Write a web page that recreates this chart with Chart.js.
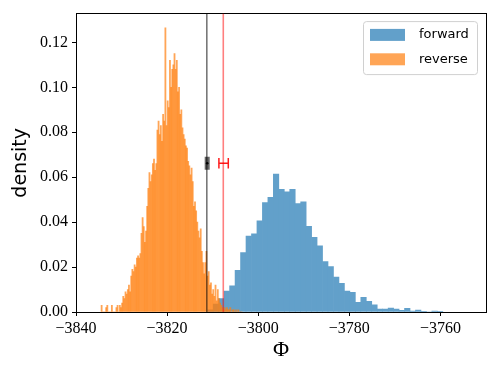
<!DOCTYPE html>
<html>
<head>
<meta charset="utf-8">
<script src="https://cdn.jsdelivr.net/npm/chart.js@4/dist/chart.umd.min.js"></script>
<style>
	html, body { margin: 0; padding: 0; background: #fff; }
	#wrap { width: 498px; height: 374px; }
</style>
</head>
<body>
<div id="wrap"><canvas id="chartContainer" width="498" height="374"></canvas></div>
<script>
// reverse work histogram: narrow bins
var reverseStart = -3834.5;
var reverseWidth = 0.25;
var reverseDensity = [
	0.003, 0, 0, 0,
	0.002, 0.003, 0, 0,
	0, 0.003, 0, 0,
	0, 0.002, 0.003, 0,
	0.003, 0.002, 0.004, 0.007,
	0.006, 0.009, 0.008, 0.010,
	0.012, 0.009, 0.016, 0.019,
	0.018, 0.021, 0.020, 0.024,
	0.025, 0.024, 0.026, 0.035,
	0.042, 0.038, 0.031, 0.036,
	0.047, 0.055, 0.062, 0.058,
	0.061, 0.066, 0.068, 0.063,
	0.066, 0.081, 0.085, 0.079,
	0.083, 0.076, 0.088, 0.085,
	0.1265, 0.083, 0.094, 0.091,
	0.112, 0.100, 0.108, 0.110,
	0.115, 0.108, 0.112, 0.098,
	0.100, 0.088, 0.090, 0.082,
	0.079, 0.077, 0.074, 0.073,
	0.067, 0.065, 0.061, 0.064,
	0.058, 0.047, 0.049, 0.045,
	0.040, 0.036, 0.033, 0.037,
	0.027, 0.022, 0.017, 0.022,
	0.027, 0.016, 0.018, 0.012,
	0.013, 0.008, 0.010, 0.007,
	0.012, 0.005, 0.010, 0.006,
	0.004, 0.003, 0.002, 0.001,
	0.002, 0.001, 0.002, 0.001,
	0.001, 0.002, 0, 0.001,
	0.001, 0, 0.001, 0,
	0.001, 0, 0, 0
];

// forward work histogram: wide bins
var forwardStart = -3811.08;
var forwardWidth = 1.2;
var forwardDensity = [
	0.001, 0.0035, 0.0060, 0.0093, 0.0117, 0.0186, 0.0264, 0.0338, 0.0348, 0.0406,
	0.0487, 0.0510, 0.0614, 0.0546, 0.0535, 0.0546, 0.0482, 0.0490, 0.0381, 0.0332,
	0.0295, 0.0224, 0.0202, 0.0155, 0.0128, 0.0093, 0.0088, 0.0043, 0.0065, 0.0047,
	0.0032, 0.0013, 0.0013, 0.0018, 0.0013, 0.0007, 0.0016, 0.0004, 0.0009, 0.0003,
	0, 0.0004, 0.0003
];

var seriesLabels = ["forward", "reverse"];
var xRange = [-3840, -3750];
var xStep = 20;
var yRange = [0, 0.1328];
var yStep = 0.02;

// estimates: vertical lines and error bars
var blackLineX = -3811.27;
var redLineX = -3807.67;
var estY = 0.0662;
var blackEst = [-3811.2, 0.55];
var redEst = [-3807.6, 1.03];
var capHalf = 0.00235;

var blue = "rgb(98,160,202)";
var orange = "rgba(255,127,14,0.7)";

function bins(start, width, vals) {
	return vals.map((v, i) => ({ x: start + width * (i + 0.5), y: v }));
}
function seg(x1, y1, x2, y2) {
	return [{ x: x1, y: y1 }, { x: x2, y: y2 }];
}
function fmt(v) {
	return v < 0 ? "\u2212" + Math.abs(v) : "" + v;
}

var lineBase = { type: "line", xAxisID: "x", yAxisID: "y", pointRadius: 0, fill: false, tension: 0, order: 0 };

var legendBox = {
	id: "legendBox",
	afterDraw(chart) {
		var ctx = chart.ctx;
		var a = chart.chartArea;
		var fx = a.right - 122.5, fy = a.top + 8, fw = 114, fh = 53;
		ctx.save();
		ctx.beginPath();
		ctx.roundRect(fx, fy, fw, fh, 3);
		ctx.fillStyle = "rgba(255,255,255,0.8)";
		ctx.fill();
		ctx.strokeStyle = "#d0d0d0";
		ctx.lineWidth = 1;
		ctx.stroke();
		var cols = [blue, orange];
		ctx.font = "13px 'DejaVu Sans'";
		ctx.textBaseline = "middle";
		for (var i = 0; i < 2; i++) {
			var py = fy + 7.3 + i * 24.4;
			ctx.fillStyle = cols[i];
			ctx.fillRect(fx + 6.5, py, 35, 12);
			ctx.fillStyle = "#000";
			ctx.fillText(seriesLabels[i], fx + 55.5, py + 6);
		}
		ctx.restore();
	}
};

var tickGrid = { display: true, offset: false, drawOnChartArea: false, drawTicks: true, tickLength: 4, color: "#000", lineWidth: 1 };
var noGrid = { display: false, offset: false, drawTicks: false, tickLength: 0 };
var border = { display: true, color: "#000", width: 1 };
var tickFont = { family: "'Liberation Serif'", size: 16 };

new Chart(document.getElementById("chartContainer"), {
	type: "bar",
	data: {
		datasets: [
			Object.assign({}, lineBase, { data: seg(blackLineX, yRange[0], blackLineX, yRange[1]), borderColor: "rgba(0,0,0,0.85)", borderWidth: 1 }),
			Object.assign({}, lineBase, { data: seg(redLineX, yRange[0], redLineX, yRange[1]), borderColor: "rgba(255,0,0,0.5)", borderWidth: 1.6 }),
			Object.assign({}, lineBase, { data: seg(blackEst[0] - blackEst[1], estY, blackEst[0] + blackEst[1], estY), borderColor: "rgba(0,0,0,0.6)", borderWidth: 13 }),
			Object.assign({}, lineBase, { data: [{ x: blackEst[0], y: estY }], showLine: false, pointRadius: 1.3, pointBackgroundColor: "#000", pointBorderWidth: 0 }),
			Object.assign({}, lineBase, { data: seg(redEst[0] - redEst[1], estY, redEst[0] + redEst[1], estY), borderColor: "#ff1a1a", borderWidth: 1.5 }),
			Object.assign({}, lineBase, { data: seg(redEst[0] - redEst[1], estY - capHalf, redEst[0] - redEst[1], estY + capHalf), borderColor: "#ff1a1a", borderWidth: 1.5 }),
			Object.assign({}, lineBase, { data: seg(redEst[0] + redEst[1], estY - capHalf, redEst[0] + redEst[1], estY + capHalf), borderColor: "#ff1a1a", borderWidth: 1.5 }),
			{
				label: seriesLabels[1],
				data: bins(reverseStart, reverseWidth, reverseDensity),
				xAxisID: "x", yAxisID: "y",
				backgroundColor: orange, borderWidth: 0,
				barPercentage: 1, categoryPercentage: 1, grouped: false, order: 1
			},
			{
				label: seriesLabels[0],
				data: bins(forwardStart, forwardWidth, forwardDensity),
				xAxisID: "xTop", yAxisID: "y",
				backgroundColor: blue, borderWidth: 0,
				barPercentage: 1, categoryPercentage: 1, grouped: false, order: 2
			}
		]
	},
	options: {
		responsive: false,
		animation: false,
		events: [],
		layout: { padding: { left: 0, right: 12, top: 12, bottom: 0 } },
		plugins: { legend: { display: false }, tooltip: { enabled: false } },
		scales: {
			x: {
				type: "linear", position: "bottom", offset: false,
				min: xRange[0], max: xRange[1],
				afterFit: (s) => { s.height = 62; },
				grid: tickGrid, border: border,
				ticks: { stepSize: xStep, includeBounds: false, autoSkip: false, font: tickFont, color: "#000", padding: 3, maxRotation: 0, callback: (v) => fmt(v) },
				title: { display: true, text: "\u03A6", font: { family: "'Liberation Serif'", size: 22 }, color: "#000", padding: { top: 0, bottom: 11 } }
			},
			xTop: {
				type: "linear", position: "top", offset: false,
				min: xRange[0], max: xRange[1],
				afterFit: (s) => { s.height = 0; },
				grid: noGrid, border: border,
				ticks: { display: false, stepSize: xStep, includeBounds: false }
			},
			y: {
				type: "linear", position: "left",
				min: yRange[0], max: yRange[1],
				afterFit: (s) => { s.width = 76; },
				grid: tickGrid, border: border,
				ticks: { stepSize: yStep, includeBounds: false, font: tickFont, color: "#000", padding: 4, callback: (v) => v.toFixed(2) },
				title: { display: true, text: "density", font: { family: "'DejaVu Sans'", size: 19 }, color: "#000", padding: { top: 10, bottom: 0 } }
			},
			yRight: {
				type: "linear", position: "right",
				min: yRange[0], max: yRange[1],
				afterFit: (s) => { s.width = 0; },
				grid: noGrid, border: border,
				ticks: { display: false, includeBounds: false }
			}
		}
	},
	plugins: [legendBox]
});
</script>
</body>
</html>
